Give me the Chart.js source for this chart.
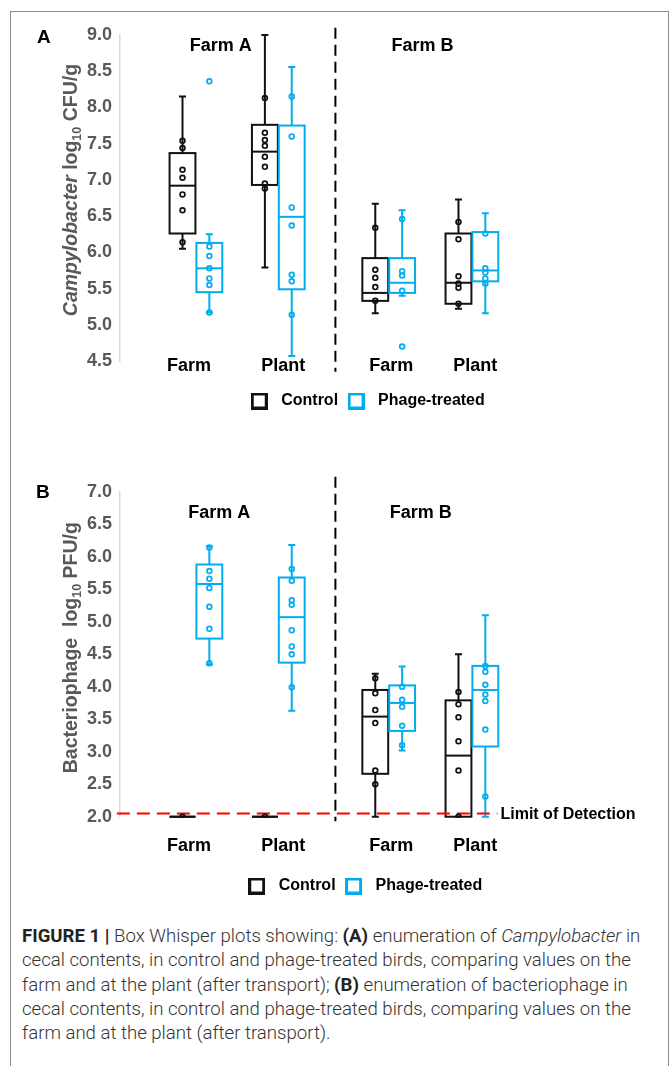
<!DOCTYPE html>
<html>
<head>
<meta charset="utf-8">
<script src="https://cdn.jsdelivr.net/npm/chart.js@4.4.1/dist/chart.umd.min.js"></script>
<style>
  html, body { margin: 0; padding: 0; background: #ffffff; }
  body { width: 670px; height: 1066px; position: relative; overflow: hidden; }
  #frame { position: absolute; left: 10px; top: 11px; width: 659px; height: 1100px; border: 1px solid #8c8c8c; box-sizing: border-box; }
  .wrap { position: absolute; left: 0; width: 670px; }
  #wrapA { top: 0; height: 430px; }
  #wrapB { top: 450px; height: 465px; }
  .letter { position: absolute; font: bold 19px "Liberation Sans", Arial, sans-serif; line-height: 19px; color: #000; }
  #caption { position: absolute; left: 22px; top: 924px; font-family: Roboto, "Liberation Sans", Arial, sans-serif; font-weight: 300; font-size: 18.6px; line-height: 24.3px; color: #333333; white-space: nowrap; }
  #caption b { font-weight: 700; color: #222; }
</style>
</head>
<body>
<div id="frame"></div>
<div class="wrap" id="wrapA"><canvas id="chartA"></canvas></div>
<div class="wrap" id="wrapB"><canvas id="chartB"></canvas></div>
<div class="letter" style="left:37px; top:27px;">A</div>
<div class="letter" style="left:36px; top:482px;">B</div>
<div id="caption">
  <b>FIGURE 1 |</b> Box Whisper plots showing: <b>(A)</b> enumeration of <i>Campylobacter</i> in<br>
  cecal contents, in control and phage-treated birds, comparing values on the<br>
  farm and at the plant (after transport); <b>(B)</b> enumeration of bacteriophage in<br>
  cecal contents, in control and phage-treated birds, comparing values on the<br>
  farm and at the plant (after transport).
</div>
<script>
// ---------------- DATA ----------------
const categories = ['Farm', 'Plant', 'Farm', 'Plant'];
const farmLabels = ['Farm A', 'Farm B'];
const seriesNames = ['Control', 'Phage-treated'];

// Panel A: Campylobacter log10 CFU/g ; box stats = [min, q1, median, q3, max]
const campyTicks = [4.5, 5.0, 5.5, 6.0, 6.5, 7.0, 7.5, 8.0, 8.5, 9.0];
const campyControlBox = [
  [6.05, 6.26, 6.92, 7.37, 8.15],
  [5.79, 6.93, 7.39, 7.76, 9.00],
  [5.16, 5.33, 5.44, 5.92, 6.67],
  [5.22, 5.29, 5.58, 6.26, 6.73]
];
const campyPhageBox = [
  [5.17, 5.45, 5.78, 6.13, 6.25],
  [4.57, 5.49, 6.49, 7.75, 8.56],
  [5.40, 5.44, 5.58, 5.92, 6.58],
  [5.16, 5.60, 5.75, 6.28, 6.54]
];
const campyControlPts = [
  [7.54, 7.44, 7.14, 7.03, 6.80, 6.58, 6.14],
  [8.13, 7.65, 7.55, 7.47, 7.32, 7.18, 6.95, 6.88],
  [6.34, 5.76, 5.65, 5.52, 5.33],
  [6.42, 6.18, 5.67, 5.57, 5.51, 5.29]
];
const campyPhagePts = [
  [8.36, 6.08, 5.95, 5.78, 5.64, 5.55, 5.17],
  [8.15, 7.60, 6.62, 6.37, 5.69, 5.60, 5.14],
  [6.46, 5.74, 5.68, 5.47, 4.70],
  [6.26, 5.78, 5.72, 5.64, 5.57]
];

// Panel B: Bacteriophage log10 PFU/g
const phageTicks = [2.0, 2.5, 3.0, 3.5, 4.0, 4.5, 5.0, 5.5, 6.0, 6.5, 7.0];
const phageControlBox = [
  [2.00, 2.00, 2.00, 2.00, 2.00],
  [2.00, 2.00, 2.00, 2.00, 2.00],
  [2.00, 2.66, 3.54, 3.95, 4.20],
  [2.00, 2.00, 2.94, 3.79, 4.50]
];
const phagePhageBox = [
  [4.34, 4.74, 5.58, 5.88, 6.16],
  [3.63, 4.37, 5.07, 5.68, 6.18],
  [3.02, 3.32, 3.75, 4.02, 4.31],
  [2.00, 3.08, 3.95, 4.32, 5.10]
];
const phageControlPts = [
  [2.00],
  [2.00],
  [4.13, 3.90, 3.64, 3.44, 2.71, 2.50],
  [3.92, 3.73, 3.53, 3.16, 2.71, 2.00]
];
const phagePhagePts = [
  [6.14, 5.78, 5.66, 5.52, 5.23, 4.89, 4.36],
  [5.81, 5.63, 5.33, 5.26, 4.87, 4.62, 4.50, 3.99],
  [4.00, 3.80, 3.69, 3.40, 3.10],
  [4.32, 4.23, 4.03, 3.88, 3.78, 3.34, 2.31]
];
const detectionLimit = 2.05;
const detectionLabel = 'Limit of Detection';

const titleA = [
  { text: 'Campylobacter', style: 'italic bold', size: 19.5 },
  { text: ' log', style: 'bold', size: 19.5 },
  { text: '10', style: 'bold', size: 12.5, sub: true },
  { text: ' CFU/g', style: 'bold', size: 19.5 }
];
const titleB = [
  { text: 'Bacteriophage', style: 'bold', size: 19.5 },
  { text: '  log', style: 'bold', size: 19.5 },
  { text: '10', style: 'bold', size: 12.5, sub: true },
  { text: ' PFU/g', style: 'bold', size: 19.5 }
];

// ---------------- LAYOUT / STYLE ----------------
const FONT = '"Liberation Sans", Arial, Helvetica, sans-serif';
const BLACK = '#111111';
const BLUE = '#00AEEF';
const GRAY = '#595959';
const seriesColors = [BLACK, BLUE];
const groupPos = [1, 2, 3.34, 4.35];
const labelPos = [0.915, 2.06, 3.37, 4.39];
const seriesOffset = [-0.163, 0.163];
const boxHalf = 0.157;
const dividerX = 2.693;
const X_MIN = 0.0783;

function legendSwatch(color) {
  const c = document.createElement('canvas');
  c.width = 17; c.height = 17;
  const g = c.getContext('2d');
  g.fillStyle = '#fff';
  g.fillRect(0, 0, 17, 17);
  g.strokeStyle = color;
  g.lineWidth = 3;
  g.strokeRect(1.5, 1.5, 14, 14);
  return c;
}
const swatches = seriesColors.map(legendSwatch);

const boxPlugin = {
  id: 'boxes',
  beforeDatasetsDraw(chart, args, o) {
    const { ctx, scales: { x, y } } = chart;
    ctx.save();
    // vertical dashed divider
    ctx.strokeStyle = '#000';
    ctx.lineWidth = 2;
    ctx.setLineDash([11, 6]);
    ctx.beginPath();
    const dx = x.getPixelForValue(dividerX);
    ctx.moveTo(dx, y.getPixelForValue(o.dividerRange[1]));
    ctx.lineTo(dx, y.getPixelForValue(o.dividerRange[0]));
    ctx.stroke();
    ctx.setLineDash([]);
    // boxes
    o.boxes.forEach((set, si) => {
      ctx.strokeStyle = seriesColors[si];
      set.forEach((b, i) => {
        const cv = groupPos[i] + seriesOffset[si];
        const xc = x.getPixelForValue(cv);
        const xl = x.getPixelForValue(cv - boxHalf);
        const xr = x.getPixelForValue(cv + boxHalf);
        const [mn, q1, md, q3, mx] = b.map(v => y.getPixelForValue(v));
        ctx.lineWidth = 2;
        ctx.beginPath();
        ctx.moveTo(xc, q3); ctx.lineTo(xc, mx);
        ctx.moveTo(xc, q1); ctx.lineTo(xc, mn);
        ctx.moveTo(xc - 3.5, mx); ctx.lineTo(xc + 3.5, mx);
        ctx.moveTo(xc - 3.5, mn); ctx.lineTo(xc + 3.5, mn);
        ctx.stroke();
        ctx.strokeRect(xl, q3, xr - xl, q1 - q3);
        ctx.beginPath();
        ctx.moveTo(xl, md); ctx.lineTo(xr, md);
        ctx.stroke();
      });
    });
    // limit of detection
    if (o.lod) {
      const ly = y.getPixelForValue(o.lod.value);
      const x0 = x.getPixelForValue(o.lod.from), x1 = x.getPixelForValue(o.lod.to);
      ctx.strokeStyle = '#FF0000';
      ctx.lineWidth = 2;
      ctx.setLineDash([13, 7]);
      ctx.beginPath(); ctx.moveTo(x0, ly); ctx.lineTo(x1, ly); ctx.stroke();
      ctx.setLineDash([]);
      ctx.fillStyle = '#000';
      ctx.font = 'bold 16px ' + FONT;
      ctx.textAlign = 'left';
      ctx.textBaseline = 'middle';
      ctx.fillText(o.lod.text, x1 + 3, ly + 1);
    }
    ctx.restore();
  },
  afterDraw(chart, args, o) {
    const { ctx, scales: { x, y }, chartArea } = chart;
    ctx.save();
    ctx.fillStyle = '#000';
    ctx.textAlign = 'center';
    ctx.textBaseline = 'middle';
    ctx.font = 'bold 18px ' + FONT;
    // farm headers
    farmLabels.forEach((t, i) => {
      ctx.fillText(t, x.getPixelForValue(o.headerX[i]), y.getPixelForValue(o.headerY));
    });
    // category labels under the axis
    categories.forEach((t, i) => {
      ctx.fillText(t, x.getPixelForValue(labelPos[i]), chartArea.bottom + o.catOffset);
    });
    // rotated, mixed-style y axis title
    const segs = o.yTitle;
    let total = 0;
    segs.forEach(s => { ctx.font = s.style + ' ' + s.size + 'px ' + FONT; s.w = ctx.measureText(s.text).width; total += s.w; });
    ctx.translate(chartArea.left - 50, y.getPixelForValue(o.yTitleMid));
    ctx.rotate(-Math.PI / 2);
    ctx.textAlign = 'left';
    ctx.textBaseline = 'alphabetic';
    ctx.fillStyle = GRAY;
    let px = -total / 2;
    segs.forEach(s => {
      ctx.font = s.style + ' ' + s.size + 'px ' + FONT;
      ctx.fillText(s.text, px, s.sub ? 10.8 : 7);
      px += s.w;
    });
    ctx.restore();
  }
};

function pointData(pts, si) {
  const out = [];
  pts.forEach((arr, i) => arr.forEach(v => out.push({ x: groupPos[i] + seriesOffset[si], y: v })));
  return out;
}

function makePanel(id, p) {
  return new Chart(document.getElementById(id), {
    type: 'scatter',
    data: {
      datasets: [
        { label: seriesNames[0], data: pointData(p.ctrlPts, 0), pointRadius: 2.4, borderWidth: 1.7, borderColor: BLACK, backgroundColor: 'rgba(0,0,0,0)', pointHoverRadius: 2.4 },
        { label: seriesNames[1], data: pointData(p.phagePts, 1), pointRadius: 2.4, borderWidth: 1.7, borderColor: BLUE, backgroundColor: 'rgba(0,0,0,0)', pointHoverRadius: 2.4 }
      ]
    },
    options: {
      responsive: true,
      maintainAspectRatio: false,
      animation: false,
      events: [],
      layout: { padding: { left: p.padLeft, right: 0, top: p.padTop, bottom: 11 } },
      scales: {
        x: {
          type: 'linear',
          min: X_MIN,
          max: X_MIN + (670 - 120) / 83,
          grid: { display: false, drawTicks: false },
          border: { display: false },
          afterBuildTicks: s => { s.ticks = labelPos.map(v => ({ value: v })); },
          afterFit: s => { s.height = p.xAxisH; },
          ticks: { display: false }
        },
        y: {
          type: 'linear',
          min: p.ticks[0],
          max: p.ticks[p.ticks.length - 1],
          grid: { display: false, drawTicks: false },
          border: { display: true, color: '#d9d9d9', width: 1.5 },
          afterBuildTicks: s => { s.ticks = p.ticks.map(v => ({ value: v })); },
          afterFit: s => { s.width = 120 - p.padLeft; },
          ticks: {
            padding: 8,
            color: GRAY,
            font: { family: FONT, size: 18, weight: 'bold' },
            callback: v => Number(v).toFixed(1)
          }
        }
      },
      plugins: {
        tooltip: { enabled: false },
        legend: {
          position: 'bottom',
          labels: {
            usePointStyle: true,
            pointStyleWidth: 28,
            boxHeight: 16,
            padding: 4,
            color: '#000',
            font: { family: FONT, size: 16, weight: 'bold' },
            generateLabels: () => seriesNames.map((n, i) => ({
              text: n, pointStyle: swatches[i], fillStyle: '#fff', strokeStyle: seriesColors[i],
              lineWidth: 0, hidden: false, datasetIndex: i, fontColor: '#000'
            }))
          }
        },
        boxes: {
          boxes: [p.ctrlBox, p.phageBox],
          dividerRange: p.dividerRange,
          lod: p.lod,
          headerX: p.headerX,
          headerY: p.headerY,
          catOffset: p.catOffset,
          yTitle: p.yTitle,
          yTitleMid: p.yTitleMid
        }
      }
    },
    plugins: [boxPlugin]
  });
}

makePanel('chartA', {
  ticks: campyTicks, ctrlBox: campyControlBox, phageBox: campyPhageBox,
  ctrlPts: campyControlPts, phagePts: campyPhagePts,
  padLeft: 60, padTop: 35, xAxisH: 28, catOffset: 5.5,
  dividerRange: [4.35, 9.10], lod: null,
  headerX: [1.30, 3.75], headerY: 8.85,
  yTitle: titleA, yTitleMid: 6.86
});

makePanel('chartB', {
  ticks: phageTicks, ctrlBox: phageControlBox, phageBox: phagePhageBox,
  ctrlPts: phageControlPts, phagePts: phagePhagePts,
  padLeft: 55, padTop: 41.7, xAxisH: 57.3, catOffset: 29.5,
  dividerRange: [1.93, 7.23],
  lod: { value: detectionLimit, from: 0.04, to: 4.66, text: detectionLabel },
  headerX: [1.283, 3.73], headerY: 6.67,
  yTitle: titleB, yTitleMid: 4.6
});
</script>
</body>
</html>
